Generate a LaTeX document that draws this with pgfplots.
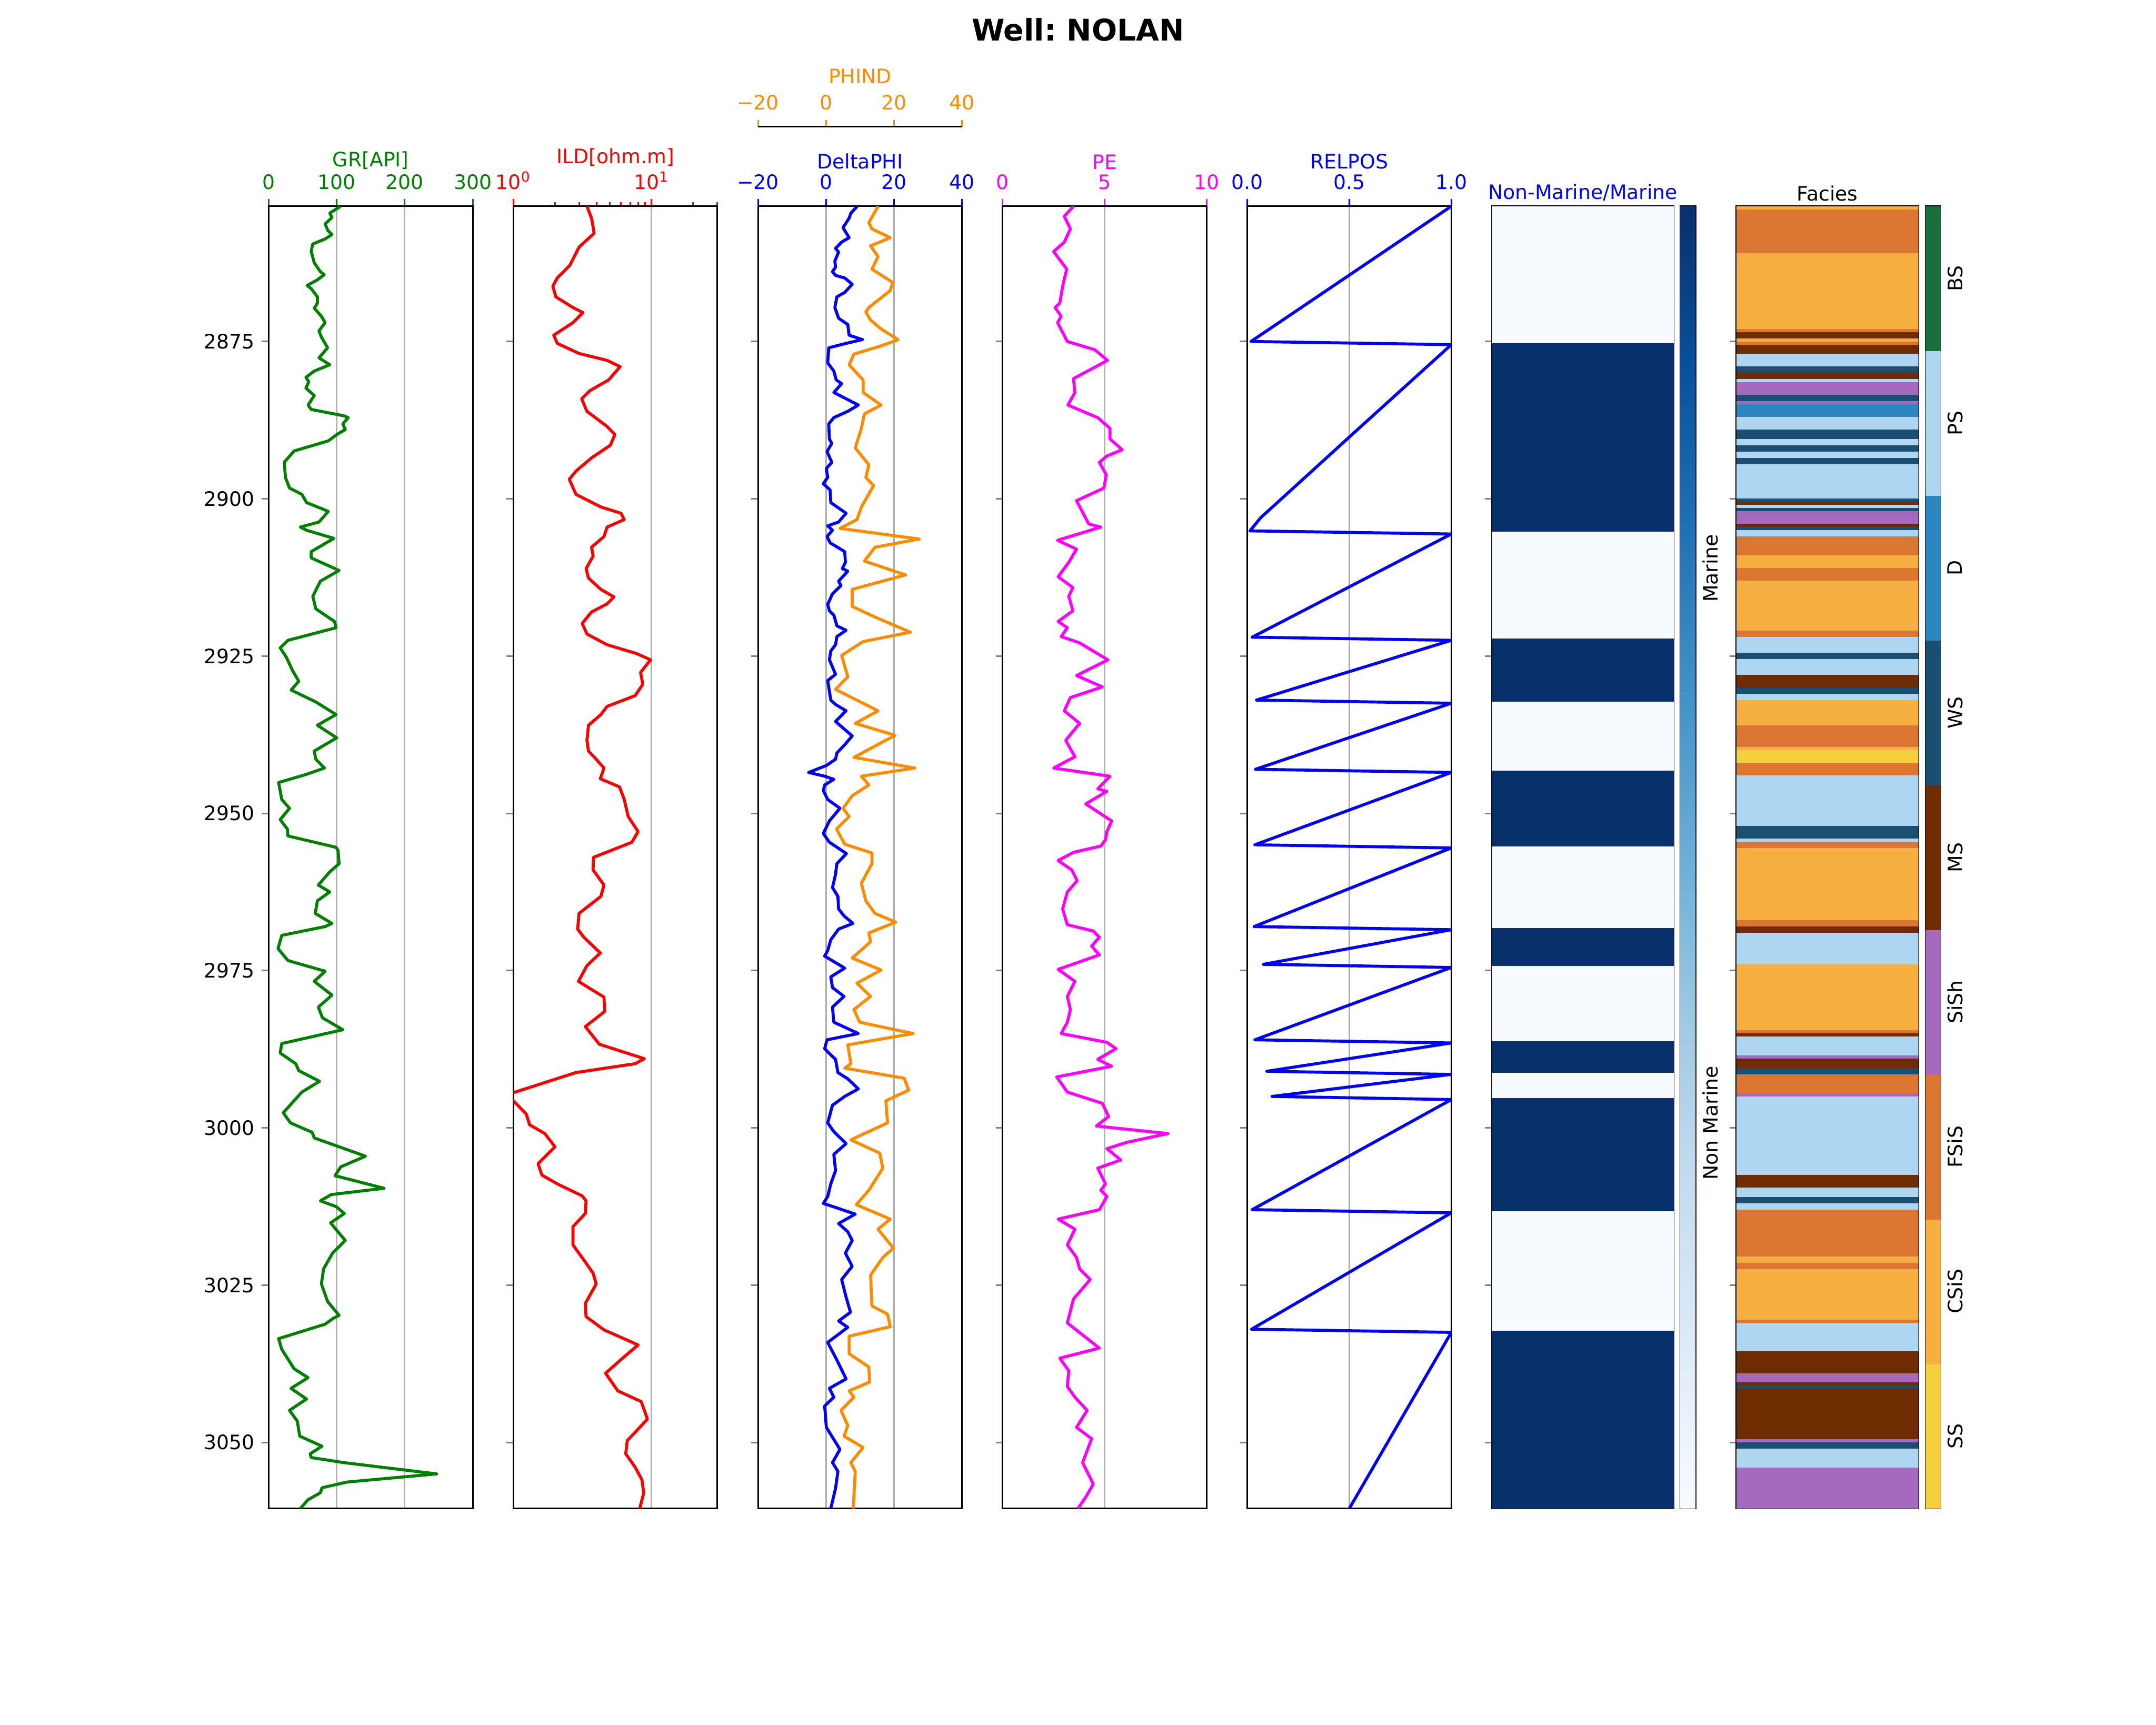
\documentclass[border=0pt]{standalone}
\usepackage{pgfplots}
\pgfplotsset{compat=1.18}
\usepackage{fontspec}
\setmainfont{DejaVu Sans}
\definecolor{mgreen}{HTML}{008000}
\definecolor{mred}{HTML}{FF0000}
\definecolor{mblue}{HTML}{0000FF}
\definecolor{mmag}{HTML}{FF00FF}
\definecolor{morange}{HTML}{FF8C00}
\definecolor{gridgray}{HTML}{B0B0B0}
\definecolor{cSS}{HTML}{F4D03F}
\definecolor{cCSiS}{HTML}{F5B041}
\definecolor{cFSiS}{HTML}{DC7633}
\definecolor{cSiSh}{HTML}{A569BD}
\definecolor{cMS}{HTML}{6E2C00}
\definecolor{cWS}{HTML}{1B4F72}
\definecolor{cD}{HTML}{2E86C1}
\definecolor{cPS}{HTML}{AED6F1}
\definecolor{cBS}{HTML}{196F3D}
\definecolor{bA}{HTML}{F7FBFF}
\definecolor{bB}{HTML}{DEEBF7}
\definecolor{bC}{HTML}{C6DBEF}
\definecolor{bD}{HTML}{9ECAE1}
\definecolor{bE}{HTML}{6BAED6}
\definecolor{bF}{HTML}{4292C6}
\definecolor{bG}{HTML}{2171B5}
\definecolor{bH}{HTML}{08519C}
\definecolor{bI}{HTML}{08306B}
\pgfdeclareverticalshading{bluesmap}{100bp}{color(0bp)=(bA); color(25bp)=(bA); color(31.25bp)=(bB); color(37.5bp)=(bC); color(43.75bp)=(bD); color(50bp)=(bE); color(56.25bp)=(bF); color(62.5bp)=(bG); color(68.75bp)=(bH); color(75bp)=(bI); color(100bp)=(bI)}
\newcommand{\band}[3]{\addplot[draw=#3, line width=0.1bp, fill=#3, forget plot] coordinates {(0,#1) (1,#1) (1,#2) (0,#2)} -- cycle;}
\newcommand{\tfont}{\fontsize{10}{12}\selectfont}
\pgfplotsset{
  track/.style={
    scale only axis, anchor=south west, height=652.3bp,
    y dir=reverse, ymin=2853.5, ymax=3060.5,
    ytick={2875,2900,2925,2950,2975,3000,3025,3050},
    yticklabels={},
    ytick pos=left, xtick pos=right, xticklabel pos=right,
    tick align=outside, major tick length=3.5bp, minor tick length=2bp,
    axis line style={line width=0.8bp},
    every tick/.append style={line width=0.8bp},
    tick label style={font=\tfont},
    xticklabel style={yshift=1.4bp},
    label style={font=\tfont},
    xlabel style={yshift=-4.2bp},
    title style={font=\tfont, yshift=-6.9bp},
    xmajorgrids, major grid style={line width=0.8bp, gridgray},
    /pgf/number format/assume math mode=true,
  },
  curve/.style={line width=1.5bp, color=#1, line join=round, mark=none},
  cbar/.style={
    scale only axis, anchor=south west, height=652.3bp,
    xmin=0, xmax=1, xtick=\empty, ytick pos=right, yticklabel pos=right,
    major tick length=0bp, axis line style={line width=0.8bp},
    yticklabel style={rotate=90, anchor=north, font=\tfont},
  },
}
\begin{document}
\begin{tikzpicture}
\path[use as bounding box] (0,0) rectangle (1080bp,864bp);
\node[font=\bfseries\fontsize{15}{18}\selectfont] at (540bp,849bp) {Well:\ NOLAN};
% ---------------- GR
\begin{axis}[track, at={(134.6bp,108.4bp)}, width=102.2bp,
  xmin=0, xmax=300, xtick={0,100,200,300}, xticklabels={0,100,200,300},
  yticklabels={2875,2900,2925,2950,2975,3000,3025,3050},
  xlabel={GR[API]}, xtick style={color=mgreen}, xticklabel style={color=mgreen}, xlabel style={color=mgreen}]
\addplot[curve=mgreen] table {
x y
105.8 2853.5
89.8 2854.6
93 2855.3
83 2856.3
86.6 2857.3
93 2858
83 2858.7
64.8 2859.5
62.5 2860.7
67 2862.5
76 2863.9
81.6 2864.4
71.6 2865.2
56.5 2866.1
62.5 2866.6
71.6 2867.9
71.6 2868.9
67 2869.7
77.5 2871
83 2872
73.9 2873.3
77.5 2874.3
86.6 2876
73.9 2877.6
89.8 2878.7
67 2879.7
54.7 2880.7
59 2881.4
54.7 2882.4
67 2883.6
57.9 2885.1
62.5 2885.8
110 2886.8
117 2887.1
109 2888.1
112.6 2889
100 2889.8
87.6 2890.8
37.4 2892.4
22.8 2894.2
24.6 2896.6
30.6 2898.3
48.8 2899.3
55.6 2900.6
87.6 2902
73.9 2903.7
46.5 2904.5
55.6 2905
95.8 2906.3
62.5 2908.4
62.5 2909.4
103.5 2911.4
76 2913.1
64.8 2915.5
69.3 2917.5
96.7 2919.5
99 2920.5
28.3 2922.5
16.9 2923.7
26 2925.2
35 2927.3
44.2 2929
33 2930.4
69.3 2932.3
99 2934.3
71.6 2936
100 2938
67 2940.1
69.3 2941.4
82 2942.8
55.6 2943.8
14.6 2945.1
19.2 2947.8
30.6 2949.2
16.9 2951
27.4 2952.5
28.3 2953.6
99 2955.4
102 2955.9
103.5 2958
89.8 2959.3
73 2961.4
89.8 2962.5
71.6 2963.9
68.4 2965.9
93 2967.5
83 2968
19.2 2969.4
13.7 2971.5
28.3 2973.4
83 2975.1
67 2976.7
93 2978.9
73 2980.8
79 2982.5
109 2984.4
19.2 2986.6
16.9 2988.1
39.7 2989.8
44.2 2990.9
74.8 2992.6
48.8 2994.3
21.4 2997.6
31.9 2999.2
63.8 3000.7
67 3001.6
142.3 3004.5
105.8 3006.2
97.6 3007.6
169.6 3009.6
92 3010.6
76 3011.6
99 3012.5
111.3 3013.6
91 3015.1
112.6 3017.9
94 3019.9
80.7 3022.4
77.5 3024.8
86.6 3027.6
103.5 3029.8
94.4 3030.3
83 3031.2
14.6 3033.5
19.2 3035.2
37.4 3038.3
57.9 3039.7
32.8 3041.4
55.6 3043.1
30.6 3044.9
42 3046.6
45.6 3049
78.4 3050.6
61 3051.8
62.5 3052.4
110 3053.2
247 3055
115 3056.3
78.4 3057.2
76 3058
57.9 3059.1
46.5 3060.5
};
\end{axis}
% ---------------- ILD
\begin{axis}[track, at={(257.15bp,108.4bp)}, width=102.2bp,
  xmode=log, xmin=1, xmax=30, xtick={1,10}, xticklabels={10\textsuperscript{0},10\textsuperscript{1}},
  minor xtick={2,3,4,5,6,7,8,9,20,30},
  xlabel={ILD[ohm.m]}, xtick style={color=mred}, minor tick style={color=black}, xticklabel style={color=mred}, xlabel style={color=mred}]
\addplot[curve=mred] table {
x y
3.41 2853.5
3.68 2855.4
3.78 2856.8
3.84 2857.8
2.99 2860
2.56 2862.9
2.08 2864.9
1.93 2866.2
2.03 2867.9
2.70 2869.6
3.19 2870.4
2.70 2872
1.96 2874
2.08 2875.3
2.99 2876.9
4.77 2878
5.93 2879
4.90 2881.1
3.59 2882.8
3.12 2884.1
3.41 2886.1
4.77 2888.5
5.43 2889.8
5.03 2891.5
3.68 2893.5
2.84 2895.6
2.54 2896.9
2.84 2899.3
4.30 2901.3
6.02 2902.3
6.35 2903.3
4.77 2904.5
4.53 2906
3.68 2907.7
3.78 2909.1
3.36 2911.1
3.50 2912.6
4.30 2914.4
5.35 2915.6
4.77 2916.7
3.68 2918
3.15 2919.8
3.41 2921.5
4.77 2923.2
7.80 2924.6
9.85 2925.6
8.34 2927.6
8.65 2929.5
7.60 2931.3
4.77 2933
4.30 2934.3
3.50 2936
3.41 2938.4
3.50 2940.1
3.98 2941.4
4.53 2942.8
4.26 2944.5
5.87 2945.8
6.35 2947.8
6.78 2950.5
8.00 2952.9
7.21 2954.6
3.8 2957
3.78 2959
4.53 2961.4
4.30 2963.2
2.99 2965.9
2.92 2968.4
3.24 2969.7
4.26 2972.2
3.41 2974.2
2.96 2976.7
3.68 2978
4.53 2979.2
4.58 2981.5
3.32 2983.9
4.19 2986.7
8.88 2989
7.60 2989.8
2.84 2991.2
1.0 2994.4
0.8 2995.1
1.0 2995.7
1.24 2997.8
1.31 2999.5
1.69 3000.9
2.0 3003
1.51 3005.7
1.61 3007.5
2.08 3008.9
3.15 3010.8
3.36 3011.6
3.32 3013.6
2.70 3015.7
2.70 3018.6
3.24 3021
3.78 3023.1
3.98 3024.8
3.32 3027.9
3.36 3030
4.53 3032.1
8.00 3034.5
6.18 3036.6
4.65 3039
5.71 3041.8
8.43 3043.5
8.88 3044.9
9.35 3046.3
6.68 3049.7
6.51 3051.8
7.60 3053.9
8.52 3055.9
8.79 3058
8.22 3060.5
};
\end{axis}
% ---------------- DeltaPHI + PHIND
\begin{axis}[track, at={(379.7bp,108.4bp)}, width=102.2bp,
  xmin=-20, xmax=40, xtick={-20,0,20,40}, xticklabels={−20,0,20,40},
  xlabel={DeltaPHI}, xtick style={color=mblue}, xticklabel style={color=mblue}, xlabel style={color=mblue}]
\addplot[curve=mblue] table {
x y
9.2 2853.5
7.3 2854.6
6.8 2855.4
5.0 2856.9
6.8 2858.5
4.6 2859.2
2.8 2860.2
3.7 2860.8
2.6 2862.2
2.8 2863.2
1.9 2863.9
2.8 2864.5
5.5 2864.9
7.7 2865.9
5.5 2867.2
3.2 2867.9
2.6 2869.6
3.7 2871.3
6.4 2872.3
6.8 2874
10.7 2874.7
5.9 2875.3
0.8 2876
0.5 2878.4
2.3 2879.7
3.0 2881.1
4.6 2881.7
2.3 2883.1
9.5 2885.1
6.4 2886.1
2.3 2887.1
0.8 2888.1
1.0 2890.5
1.7 2891.2
0.3 2892.5
1.7 2894.2
0.1 2895.2
0.5 2896.6
-0.8 2897.6
1.2 2898.6
1.4 2900.6
5.9 2902.3
3.7 2903.7
0.5 2904.3
1.9 2905
0.3 2906
1.2 2907
5.5 2908.4
5.7 2910.1
4.8 2911.1
6.4 2911.5
3.7 2913.1
4.4 2913.8
1.9 2915.1
0.5 2916.8
1.0 2917.8
2.3 2918.5
3.2 2920.2
5.9 2920.9
3.2 2921.9
2.8 2923.2
1.4 2924.2
1.0 2925.6
2.8 2927.9
0.5 2928.9
1.4 2932
2.8 2932.7
5.9 2933.7
2.8 2935.4
7.7 2937.7
5.5 2939.1
3.2 2940.4
2.8 2941.4
0.1 2942.4
-5.1 2943.5
-0.4 2944.1
2.3 2944.6
-0.4 2945.5
-0.8 2946.4
0.5 2947.8
4.1 2949.2
1.0 2951.2
-0.8 2953.2
1.0 2954.6
6.0 2956.4
3.2 2958
2.8 2959.7
1.9 2961.8
3.5 2963.2
3.7 2965.2
5.3 2966.3
7.9 2967.5
3.7 2968.4
1.4 2970.1
0.5 2971.8
-0.4 2972.7
5.5 2974.6
1.4 2976
1.9 2977.7
5.3 2979.1
1.9 2980.8
2.3 2983.2
9.5 2985
0.3 2986
-0.4 2987.4
1.4 2988.4
2.8 2989.1
3.5 2991.2
6.4 2992.2
9.5 2993.8
5.5 2995
1.9 2996.4
0.5 2999.2
2.3 3000.6
5.9 3002.5
2.3 3004.2
2.8 3006.8
1.4 3008.9
0.5 3010.9
-0.8 3012
8.6 3013.7
3.7 3015.2
6.4 3016.5
7.7 3017.9
5.7 3019.9
7.7 3022
4.6 3024.1
5.9 3026.9
7.2 3029.3
3.7 3030.7
6.4 3031.7
0.5 3034.1
3.2 3036.9
5.9 3039.9
1.0 3041.4
2.3 3042.8
-0.4 3044.2
0.1 3047.6
4.1 3051.1
1.9 3053.2
3.5 3054.6
2.8 3057.3
1.4 3060.5
};
\addplot[curve=morange] table {
x y
15.3 2853.5
12.6 2856.1
13.5 2857.1
18.9 2858.5
13.1 2859.8
15.3 2861.5
13.5 2863.5
19.6 2865.6
18.9 2866.9
12.6 2869.6
11.7 2870.3
13.1 2871.6
16.2 2873
21.2 2874.7
16.2 2875.7
8.2 2877
6.8 2878.7
10.9 2881.1
10.9 2883.1
16.2 2885.1
11.3 2886.5
10.4 2888.8
8.6 2891.9
12.6 2894.6
11.7 2896.6
14.0 2897.9
10.4 2901.3
9.1 2903.3
4.1 2904.7
27.4 2906.4
14.4 2907.7
11.3 2909.9
23.4 2912.1
7.7 2914.4
7.7 2917.1
14.4 2918.8
24.8 2921.2
10.9 2922.7
4.6 2924.9
6.4 2928.3
2.8 2930.3
15.3 2933.7
8.6 2935.7
20.3 2937.6
8.2 2941.1
26.1 2942.8
10.4 2944.1
12.6 2945.5
7.7 2947.2
5.0 2949.2
6.8 2950.5
3.1 2952.5
5.5 2954.9
13.5 2956.3
13.5 2958
10.4 2961.1
11.7 2963.9
14.4 2965.9
20.5 2967.3
12.6 2969
13.1 2970.4
7.7 2973
16.2 2974.9
9.1 2977
13.1 2979.1
8.2 2981.2
9.9 2983.2
25.6 2985
6.4 2986.8
7.3 2989.8
5.5 2990.5
23.0 2992.1
24.3 2994
17.6 2995.7
18.1 2999.2
7.3 3001.9
15.8 3004
16.7 3006.4
12.6 3009.9
8.9 3012.2
18.9 3014.5
15.3 3016.1
19.8 3019.1
16.7 3020.6
13.1 3023.4
13.5 3028.3
18.1 3029.6
18.9 3031.6
6.8 3033.1
6.8 3035.9
12.6 3038
12.8 3040.4
6.8 3041.8
8.2 3042.8
4.4 3044.9
6.4 3047.3
5.3 3049
10.9 3050.8
7.3 3053.2
8.6 3054.6
8.0 3060.5
};
\end{axis}
% PHIND twin axis
\begin{axis}[scale only axis, anchor=south west, at={(379.7bp,790.5bp)}, width=102.2bp, height=10bp,
  axis x line*=top, axis y line=none, xmin=-20, xmax=40, ymin=0, ymax=1,
  xtick={-20,0,20,40}, xticklabels={−20,0,20,40}, tick align=outside, major tick length=3.5bp,
  axis line style={line width=0.8bp}, xtick style={color=morange, line width=0.8bp},
  xticklabel style={color=morange, yshift=1.4bp}, xlabel={PHIND}, xlabel style={color=morange, yshift=-1bp},
  tick label style={font=\tfont}, label style={font=\tfont}]
\end{axis}
% ---------------- PE
\begin{axis}[track, at={(502.25bp,108.4bp)}, width=102.2bp,
  xmin=0, xmax=10, xtick={0,5,10}, xticklabels={0,5,10},
  xlabel={PE}, xtick style={color=mmag}, xticklabel style={color=mmag}, xlabel style={color=mmag}]
\addplot[curve=mmag] table {
x y
3.47 2853.5
3.02 2855.1
3.32 2857.1
3.02 2859.2
2.50 2860.7
3.14 2863.5
2.94 2866.2
2.80 2868.9
2.57 2869.6
2.87 2871
2.69 2872
3.17 2875
4.51 2876.3
5.14 2878
3.47 2880.9
3.54 2883.1
3.20 2885.1
4.66 2887.1
5.26 2888.8
5.26 2890.5
5.86 2892.2
5.11 2893.2
4.74 2894.2
5.08 2896.2
4.96 2898.3
3.62 2900.3
4.22 2904
4.81 2904.5
2.69 2906.6
3.62 2908
3.24 2910.1
2.72 2912.4
3.44 2914.1
3.24 2915.5
3.44 2917.8
2.72 2919.5
3.17 2920.5
2.87 2921.9
3.77 2922.9
5.16 2925.6
3.62 2928.1
4.89 2929.9
3.32 2931.6
3.02 2933.7
3.77 2935.7
3.09 2938.4
3.54 2941
2.50 2942.8
5.26 2944.1
4.66 2946.1
5.11 2946.5
4.07 2948.5
5.34 2951.2
5.11 2952.9
5.04 2954.2
4.81 2955.2
3.47 2956.2
2.72 2957.5
3.39 2959
3.65 2960.7
3.17 2962.5
2.94 2965.2
3.17 2967.7
4.44 2968.7
4.74 2969.7
4.36 2971.1
4.74 2972.5
2.72 2974.8
3.54 2976.7
3.17 2979.1
3.32 2981.2
3.17 2983.2
2.87 2985
5.11 2986.4
5.56 2987.4
4.66 2989.1
5.34 2990.2
2.65 2991.9
3.17 2994.3
4.89 2996.1
5.19 2998.2
4.59 2999.7
8.10 3000.9
6.08 3002.3
5.11 3003.3
5.79 3005.1
4.66 3006.4
5.04 3008.9
4.81 3009.9
5.11 3010.9
4.74 3013
2.72 3014.5
3.54 3016.1
3.17 3018.6
3.62 3020.6
3.77 3022.4
4.29 3024.1
3.47 3027.2
3.17 3031
4.74 3035
2.80 3036.6
3.24 3038.6
3.17 3041.1
3.54 3042.8
4.14 3044.9
3.62 3047.6
4.36 3049.4
3.92 3053.2
4.44 3056.6
4.07 3058.7
3.69 3060.5
};
\end{axis}
% ---------------- RELPOS
\begin{axis}[track, at={(624.8bp,108.4bp)}, width=102.2bp,
  xmin=0, xmax=1, xtick={0,0.5,1}, xticklabels={0.0,0.5,1.0},
  xlabel={RELPOS}, xtick style={color=mblue}, xticklabel style={color=mblue}, xlabel style={color=mblue}]
\addplot[curve=mblue] table {
x y
1.0 2853.5
0.018 2875.0
1.0 2875.5
0.52 2889.6
0.066 2903.0
0.013 2905.1
1.0 2905.6
0.024 2922.0
1.0 2922.5
0.045 2932.0
1.0 2932.5
0.04 2943.0
1.0 2943.5
0.037 2955.0
1.0 2955.5
0.033 2968.0
1.0 2968.5
0.079 2974.0
1.0 2974.5
0.037 2986.0
1.0 2986.5
0.096 2991.0
1.0 2991.5
0.121 2995.0
1.0 2995.5
0.024 3013.0
1.0 3013.5
0.021 3032.0
1.0 3032.5
0.5 3060.5
};
\end{axis}
% ---------------- Non-Marine / Marine
\begin{axis}[track, at={(747.35bp,108.4bp)}, width=91.1bp,
  xmin=0, xmax=1, xtick=\empty, xmajorgrids=false,
  title={Non-Marine/Marine}, title style={color=mblue}]
\band{2853.5}{2875.25}{bA}
\band{2875.25}{2905.25}{bI}
\band{2905.25}{2922.25}{bA}
\band{2922.25}{2932.25}{bI}
\band{2932.25}{2943.25}{bA}
\band{2943.25}{2955.25}{bI}
\band{2955.25}{2968.25}{bA}
\band{2968.25}{2974.25}{bI}
\band{2974.25}{2986.25}{bA}
\band{2986.25}{2991.25}{bI}
\band{2991.25}{2995.25}{bA}
\band{2995.25}{3013.25}{bI}
\band{3013.25}{3032.25}{bA}
\band{3032.25}{3060.5}{bI}
\end{axis}
\begin{axis}[cbar, at={(841.7bp,108.4bp)}, width=7.6bp, ymin=0, ymax=1,
  ytick={0.296,0.722}, yticklabels={Non Marine,Marine}]
\addplot[draw=none, shade, shading=bluesmap, forget plot] coordinates {(0,0) (1,0) (1,1) (0,1)} -- cycle;
\end{axis}
% ---------------- Facies
\begin{axis}[track, at={(869.8bp,108.4bp)}, width=91.2bp,
  xmin=0, xmax=1, xtick=\empty, xmajorgrids=false, title={Facies}]
\band{2853.5}{2854.0}{cCSiS}
\band{2854.0}{2861.0}{cFSiS}
\band{2861.0}{2873.0}{cCSiS}
\band{2873.0}{2873.5}{cFSiS}
\band{2873.5}{2874.5}{cMS}
\band{2874.5}{2875.0}{cCSiS}
\band{2875.0}{2875.5}{cFSiS}
\band{2875.5}{2877.0}{cMS}
\band{2877.0}{2879.0}{cPS}
\band{2879.0}{2880.0}{cWS}
\band{2880.0}{2881.0}{cMS}
\band{2881.0}{2881.5}{cPS}
\band{2881.5}{2883.5}{cSiSh}
\band{2883.5}{2884.5}{cWS}
\band{2884.5}{2885.0}{cSiSh}
\band{2885.0}{2887.0}{cD}
\band{2887.0}{2889.0}{cPS}
\band{2889.0}{2890.5}{cWS}
\band{2890.5}{2891.5}{cPS}
\band{2891.5}{2892.5}{cWS}
\band{2892.5}{2893.5}{cPS}
\band{2893.5}{2894.5}{cWS}
\band{2894.5}{2900.0}{cPS}
\band{2900.0}{2900.5}{cWS}
\band{2900.5}{2901.0}{cMS}
\band{2901.0}{2901.5}{cPS}
\band{2901.5}{2902.0}{cWS}
\band{2902.0}{2904.0}{cSiSh}
\band{2904.0}{2904.5}{cMS}
\band{2904.5}{2905.0}{cWS}
\band{2905.0}{2906.0}{cPS}
\band{2906.0}{2909.0}{cFSiS}
\band{2909.0}{2911.0}{cCSiS}
\band{2911.0}{2913.0}{cFSiS}
\band{2913.0}{2921.0}{cCSiS}
\band{2921.0}{2922.0}{cFSiS}
\band{2922.0}{2924.5}{cPS}
\band{2924.5}{2925.5}{cWS}
\band{2925.5}{2928.0}{cPS}
\band{2928.0}{2930.0}{cMS}
\band{2930.0}{2931.0}{cWS}
\band{2931.0}{2932.0}{cPS}
\band{2932.0}{2936.0}{cCSiS}
\band{2936.0}{2939.5}{cFSiS}
\band{2939.5}{2940.0}{cCSiS}
\band{2940.0}{2942.0}{cSS}
\band{2942.0}{2944.0}{cFSiS}
\band{2944.0}{2952.0}{cPS}
\band{2952.0}{2954.0}{cWS}
\band{2954.0}{2954.5}{cPS}
\band{2954.5}{2955.5}{cFSiS}
\band{2955.5}{2967.0}{cCSiS}
\band{2967.0}{2968.0}{cFSiS}
\band{2968.0}{2969.0}{cMS}
\band{2969.0}{2974.0}{cPS}
\band{2974.0}{2984.5}{cCSiS}
\band{2984.5}{2985.0}{cFSiS}
\band{2985.0}{2985.5}{cMS}
\band{2985.5}{2988.5}{cPS}
\band{2988.5}{2989.0}{cSiSh}
\band{2989.0}{2990.5}{cMS}
\band{2990.5}{2991.5}{cWS}
\band{2991.5}{2994.5}{cFSiS}
\band{2994.5}{2995.0}{cSiSh}
\band{2995.0}{3007.5}{cPS}
\band{3007.5}{3009.5}{cMS}
\band{3009.5}{3011.0}{cPS}
\band{3011.0}{3012.0}{cWS}
\band{3012.0}{3013.0}{cPS}
\band{3013.0}{3020.5}{cFSiS}
\band{3020.5}{3021.5}{cCSiS}
\band{3021.5}{3022.5}{cFSiS}
\band{3022.5}{3030.5}{cCSiS}
\band{3030.5}{3031.0}{cFSiS}
\band{3031.0}{3035.5}{cPS}
\band{3035.5}{3039.0}{cMS}
\band{3039.0}{3040.5}{cSiSh}
\band{3040.5}{3041.0}{cMS}
\band{3041.0}{3041.5}{cWS}
\band{3041.5}{3049.5}{cMS}
\band{3049.5}{3050.0}{cSiSh}
\band{3050.0}{3051.0}{cWS}
\band{3051.0}{3054.0}{cPS}
\band{3054.0}{3060.5}{cSiSh}
\end{axis}
\begin{axis}[cbar, at={(964.6bp,108.4bp)}, width=7.5bp, ymin=0, ymax=9,
  ytick={0.5,1.5,2.5,3.5,4.5,5.5,6.5,7.5,8.5},
  yticklabels={SS,CSiS,FSiS,SiSh,MS,WS,D,PS,BS}]
\band{0}{1}{cSS}
\band{1}{2}{cCSiS}
\band{2}{3}{cFSiS}
\band{3}{4}{cSiSh}
\band{4}{5}{cMS}
\band{5}{6}{cWS}
\band{6}{7}{cD}
\band{7}{8}{cPS}
\band{8}{9}{cBS}
\end{axis}
\end{tikzpicture}
\end{document}
